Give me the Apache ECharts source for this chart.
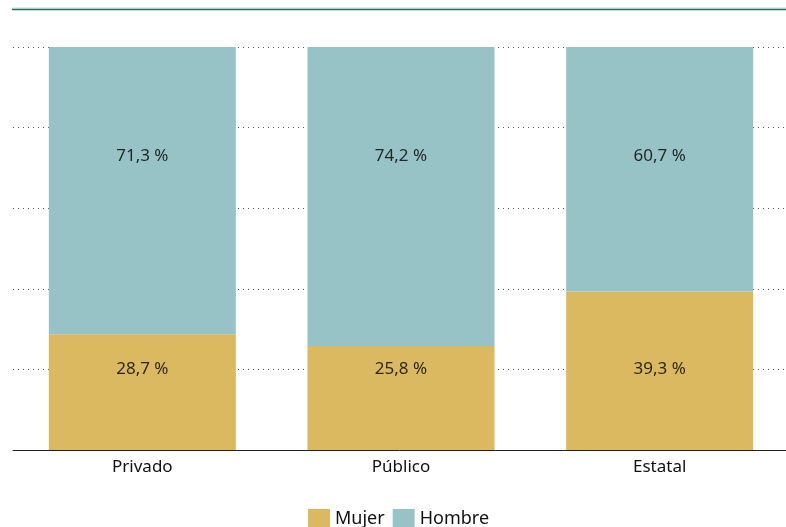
<!DOCTYPE html>
<html><head><meta charset="utf-8">
<script src="https://cdn.jsdelivr.net/npm/echarts@6/dist/echarts.min.js"></script>
<style>html,body{margin:0;padding:0;background:#fff}#c{width:786px;height:527px}</style>
</head><body><div id="c"></div>
<script>
const categories = ['Privado', 'Público', 'Estatal'];
const mujer = [28.7, 25.8, 39.3];
const hombre = [71.3, 74.2, 60.7];
const yTicks = [0, 20, 40, 60, 80, 100];
const mujerLabelY = 20;
const hombreLabelY = 73;

const fmt = v => v.toFixed(1).replace('.', ',') + ' %';
const FONT = 'Noto Sans';
const chart = echarts.init(document.getElementById('c'), null, {renderer: 'canvas'});
chart.setOption({
  animation: false,
  textStyle: {fontFamily: FONT},
  grid: {left: 13, width: 776, top: 47, bottom: 77, containLabel: false, outerBoundsMode: 'none'},
  legend: {
    data: ['Mujer', 'Hombre'], top: 504, left: 303, itemWidth: 22, itemHeight: 20, itemGap: 8,
    icon: 'rect', textStyle: {fontSize: 18, color: '#111', fontFamily: FONT}
  },
  graphic: [
    {type: 'line', shape: {x1: 12, y1: 8, x2: 786, y2: 8}, style: {stroke: '#c9dcdb', lineWidth: 1}},
    {type: 'line', shape: {x1: 12, y1: 9.5, x2: 786, y2: 9.5}, style: {stroke: '#2e6a60', lineWidth: 1.5}}
  ],
  xAxis: {
    type: 'category', data: categories,
    axisLine: {lineStyle: {color: '#222', width: 1}}, axisTick: {show: false},
    axisLabel: {fontSize: 17, color: '#111', margin: 9, fontFamily: FONT}
  },
  yAxis: {
    type: 'value', min: yTicks[0], max: yTicks[yTicks.length - 1], interval: 20,
    axisLabel: {show: false}, axisLine: {show: false}, axisTick: {show: false},
    splitLine: {lineStyle: {type: [1, 4], color: '#555', width: 1}}
  },
  series: [
    {name: 'Mujer', type: 'bar', stack: 's', data: mujer, barWidth: '72.3%', itemStyle: {color: '#dbb960'}, z: 3},
    {name: 'Hombre', type: 'bar', stack: 's', data: hombre, itemStyle: {color: '#98c3c6'}, z: 3},
    {type: 'scatter', symbolSize: 0, z: 5, silent: true,
      data: categories.map((c, i) => ({value: [c, mujerLabelY], label: {formatter: fmt(mujer[i])}})),
      label: {show: true, position: 'inside', fontSize: 17, color: '#000', textBorderWidth: 0, fontFamily: FONT}},
    {type: 'scatter', symbolSize: 0, z: 5, silent: true,
      data: categories.map((c, i) => ({value: [c, hombreLabelY], label: {formatter: fmt(hombre[i])}})),
      label: {show: true, position: 'inside', fontSize: 17, color: '#000', textBorderWidth: 0, fontFamily: FONT}}
  ]
});
</script></body></html>
